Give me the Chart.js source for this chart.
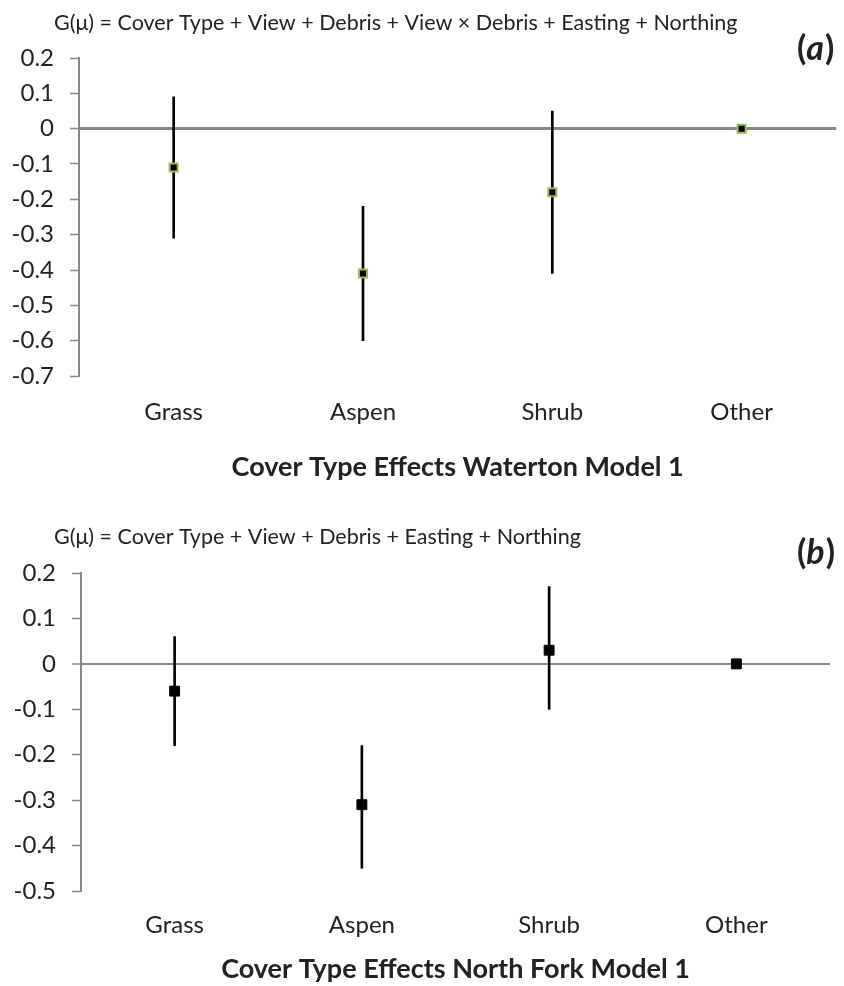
<!DOCTYPE html>
<html><head><meta charset="utf-8">
<script src="https://cdn.jsdelivr.net/npm/chart.js@4"></script>
<style>
html,body{margin:0;padding:0;background:#fff}
canvas{display:block}
</style></head><body>
<canvas id="ca" width="844" height="493"></canvas>
<canvas id="cb" width="844" height="493"></canvas>
<script>
// ---- data ----
const categories = ['Grass', 'Aspen', 'Shrub', 'Other'];

const watertonEstimate = [-0.11, -0.41, -0.18, 0];
const watertonLower    = [-0.31, -0.60, -0.41, null];
const watertonUpper    = [0.09, -0.22, 0.05, null];

const northForkEstimate = [-0.06, -0.31, 0.03, 0];
const northForkLower    = [-0.18, -0.45, -0.10, null];
const northForkUpper    = [0.06, -0.18, 0.17, null];

const watertonTicks = [0.2, 0.1, 0, -0.1, -0.2, -0.3, -0.4, -0.5, -0.6, -0.7];
const watertonTickLabels = ['0.2', '0.1', '0', '-0.1', '-0.2', '-0.3', '-0.4', '-0.5', '-0.6', '-0.7'];
const northForkTicks = [0.2, 0.1, 0, -0.1, -0.2, -0.3, -0.4, -0.5];
const northForkTickLabels = ['0.2', '0.1', '0', '-0.1', '-0.2', '-0.3', '-0.4', '-0.5'];

const formulaA = 'G(\u03bc) = Cover Type + View + Debris + View \u00d7 Debris + Easting + Northing';
const formulaB = 'G(\u03bc) = Cover Type + View + Debris + Easting + Northing';
const titleA = 'Cover Type Effects Waterton Model 1';
const titleB = 'Cover Type Effects North Fork Model 1';

// ---- styling ----
const FONT = 'Lato, "Open Sans", sans-serif';
const TEXT = '#222222';
const AXIS = '#868686';

const panelText = {
  id: 'panelText',
  afterDraw(chart, args, o) {
    const ctx = chart.ctx;
    ctx.save();
    ctx.fillStyle = TEXT;
    ctx.textBaseline = 'middle';
    ctx.textAlign = 'left';
    ctx.font = o.formulaSize + 'px ' + FONT;
    ctx.fillText(o.formula, o.formulaX, o.formulaY);
    let x = o.labelX;
    const up = 'bold ' + o.labelSize + 'px ' + FONT;
    const it = 'italic bold ' + o.labelSize + 'px ' + FONT;
    ctx.font = up; ctx.fillText('(', x, o.labelY); x += ctx.measureText('(').width;
    ctx.font = it; ctx.fillText(o.label, x, o.labelY); x += ctx.measureText(o.label).width + 1;
    ctx.font = up; ctx.fillText(')', x, o.labelY);
    ctx.restore();
  }
};

function makeChart(id, cfg) {
  return new Chart(document.getElementById(id), {
    data: {
      labels: categories,
      datasets: [
        {
          type: 'bar',
          data: cfg.lower.map((lo, i) => lo === null ? null : [lo, cfg.upper[i]]),
          backgroundColor: '#000',
          borderWidth: 0,
          barThickness: 2,
          order: 2
        },
        {
          type: 'line',
          data: cfg.estimate,
          showLine: false,
          pointStyle: 'rect',
          pointRadius: cfg.pointRadius,
          pointBackgroundColor: '#000',
          pointBorderColor: cfg.pointBorder,
          pointBorderWidth: cfg.pointBorderWidth,
          order: 1
        }
      ]
    },
    options: {
      responsive: false,
      animation: false,
      devicePixelRatio: 1,
      layout: { padding: { top: cfg.padTop, left: 0, right: cfg.padRight, bottom: 0 } },
      plugins: {
        legend: { display: false },
        tooltip: { enabled: false },
        panelText: {
          formula: cfg.formula, formulaX: 54, formulaY: cfg.formulaY, formulaSize: 21.5,
          label: cfg.label, labelX: 797, labelY: cfg.labelY, labelSize: 34
        }
      },
      scales: {
        x: {
          type: 'category',
          offset: true,
          grid: { display: false, drawTicks: false },
          border: { display: false },
          ticks: { font: { family: FONT, size: 24 }, color: TEXT, padding: cfg.xLabelPad },
          title: {
            display: true, text: cfg.title, color: TEXT,
            font: { family: FONT, size: 27, weight: 'bold' },
            padding: { top: 0, bottom: cfg.titlePadBottom }
          },
          afterFit: s => { s.height = cfg.xHeight; }
        },
        y: {
          type: 'linear',
          min: cfg.ticks[cfg.ticks.length - 1],
          max: cfg.ticks[0],
          afterBuildTicks: s => { s.ticks = cfg.ticks.map(v => ({ value: v })); },
          ticks: {
            font: { family: FONT, size: 24 }, color: TEXT, padding: 16,
            callback: (v, i) => cfg.tickLabels[i]
          },
          grid: {
            drawOnChartArea: true,
            color: c => (c.tick && c.tick.value === 0) ? AXIS : 'rgba(0,0,0,0)',
            lineWidth: c => (c.tick && c.tick.value === 0) ? cfg.zeroWidth : 1,
            tickColor: AXIS,
            tickWidth: 1.5,
            tickLength: 9
          },
          border: { display: true, color: AXIS, width: 2 },
          afterFit: s => { s.width = cfg.yWidth; }
        }
      }
    },
    plugins: [panelText]
  });
}

makeChart('ca', {
  estimate: watertonEstimate, lower: watertonLower, upper: watertonUpper,
  ticks: watertonTicks, tickLabels: watertonTickLabels,
  formula: formulaA, formulaY: 23, label: 'a', labelY: 49,
  title: titleA,
  pointRadius: 5.7, pointBorder: '#9BBB59', pointBorderWidth: 2,
  padTop: 58, padRight: 5, yWidth: 79, xHeight: 117, xLabelPad: 22, titlePadBottom: 10,
  zeroWidth: 3
});
makeChart('cb', {
  estimate: northForkEstimate, lower: northForkLower, upper: northForkUpper,
  ticks: northForkTicks, tickLabels: northForkTickLabels,
  formula: formulaB, formulaY: 44, label: 'b', labelY: 60,
  title: titleB,
  pointRadius: 7, pointBorder: '#000', pointBorderWidth: 1,
  padTop: 80, padRight: 14, yWidth: 81, xHeight: 95, xLabelPad: 20, titlePadBottom: 1,
  zeroWidth: 2
});
</script>
</body></html>
